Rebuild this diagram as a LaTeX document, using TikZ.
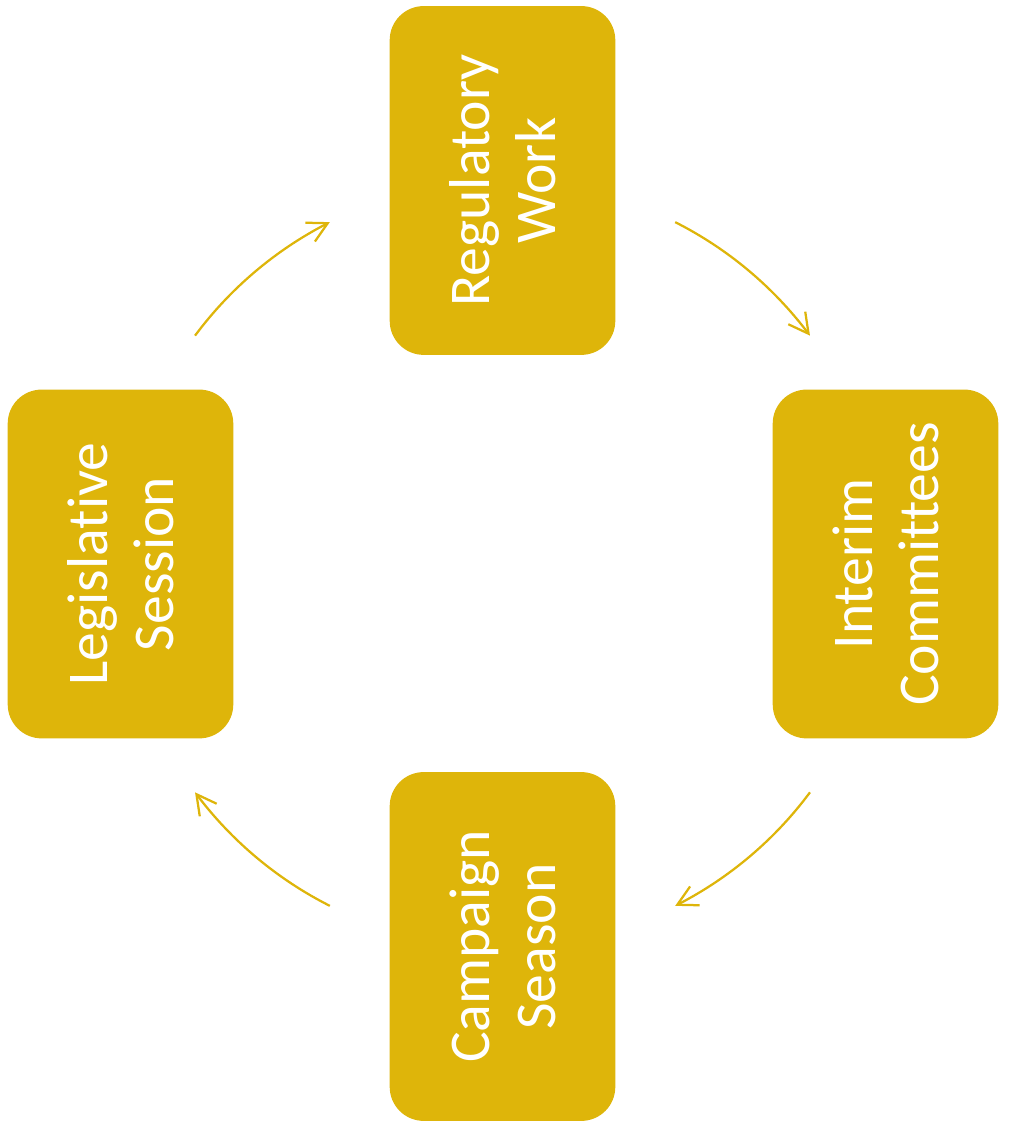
\documentclass[tikz,border=0pt]{standalone}
\usepackage{fontspec}
\setmainfont{Carlito}[Ligatures=NoCommon]
\usetikzlibrary{arrows.meta,bending}
\definecolor{gold}{RGB}{222,181,10}
\tikzset{
  phase/.style={rectangle, rounded corners=0.85cm, fill=gold, text=white, rotate=90,
    minimum width=8.72cm, minimum height=5.64cm, align=center, inner sep=0pt,
    font=\fontsize{41}{47}\selectfont},
  flow/.style={gold, line width=1.6pt, -{Straight Barb[length=14pt,width=15pt]}}
}
\begin{document}
\begin{tikzpicture}
\useasboundingbox (0,0) rectangle (25.2,28.125);
\coordinate (ctr) at (12.5625,14.025);

\node[phase] (reg) at (12.5625,23.6125) {Regulatory\\Work};
\node[phase] (int) at (22.1375,14.025) {Interim\\Committees};
\node[phase] (cam) at (12.5625,4.4625) {Campaign\\Season};
\node[phase] (leg) at (3.0125,14.025) {Legislative\\Session};

\foreach \a in {143.4,63.2,-36.6,-116.8}
\draw[flow] (ctr) ++(\a:9.575) arc[start angle=\a, delta angle=-26.6, radius=9.575];
\end{tikzpicture}
\end{document}
